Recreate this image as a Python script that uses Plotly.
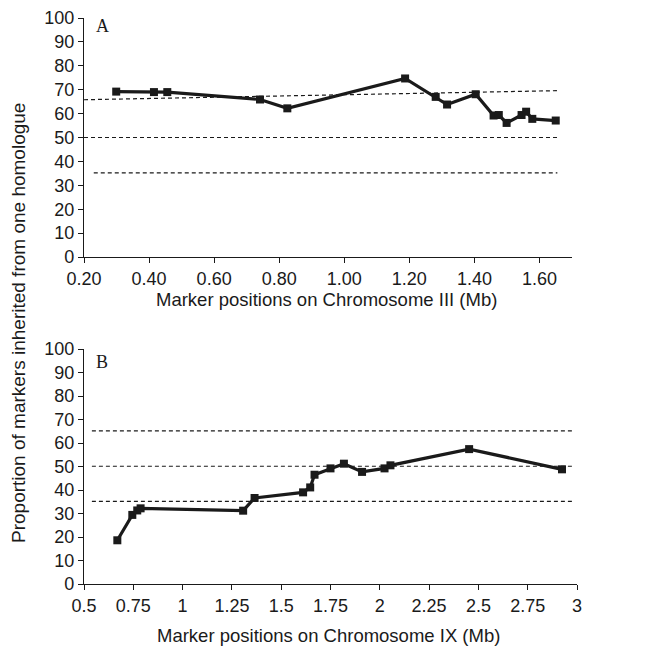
import plotly.graph_objects as go

W, H = 662, 646

# Panel A: Chromosome III
a_pos = [0.299, 0.415, 0.456, 0.741, 0.825, 1.187, 1.281, 1.316, 1.404,
         1.459, 1.475, 1.499, 1.545, 1.559, 1.578, 1.650]
a_val = [69.2, 69.0, 69.0, 65.9, 62.2, 74.7, 67.0, 63.8, 68.1,
         59.2, 59.4, 56.1, 59.4, 60.8, 57.8, 57.1]
a_upper_x = [0.20, 1.655]
a_upper_y = [65.8, 69.6]
a_mid_x = [0.20, 1.66]
a_mid_y = [50, 50]
a_low_x = [0.23, 1.655]
a_low_y = [35.2, 35.2]
a_ticks = [0.2, 0.4, 0.6, 0.8, 1.0, 1.2, 1.4, 1.6]
a_ticktext = ["0.20", "0.40", "0.60", "0.80", "1.00", "1.20", "1.40", "1.60"]

# Panel B: Chromosome IX
b_pos = [0.669, 0.745, 0.770, 0.787, 1.307, 1.365, 1.611, 1.647, 1.669,
         1.750, 1.818, 1.910, 2.024, 2.054, 2.453, 2.924]
b_val = [18.6, 29.4, 31.3, 32.2, 31.2, 36.6, 39.0, 41.1, 46.5,
         49.2, 51.2, 47.7, 49.2, 50.5, 57.4, 48.8]
b_line_x = [0.54, 2.975]
b_upper_y = [65.2, 65.2]
b_mid_y = [50.1, 50.1]
b_low_y = [35.2, 35.2]
b_ticks = [0.5, 0.75, 1.0, 1.25, 1.5, 1.75, 2.0, 2.25, 2.5, 2.75, 3.0]
b_ticktext = ["0.5", "0.75", "1", "1.25", "1.5", "1.75", "2", "2.25", "2.5", "2.75", "3"]

y_ticks = list(range(0, 101, 10))

FONT = "Liberation Sans, Arial, sans-serif"
SERIF = "Liberation Serif, Times New Roman, serif"
INK = "#1a1a1a"

fig = go.Figure()

dash_style = dict(color=INK, width=1.2, dash="4px,3px")

# dashed reference lines
for xs, ys in [(a_upper_x, a_upper_y), (a_mid_x, a_mid_y), (a_low_x, a_low_y)]:
    fig.add_trace(go.Scatter(x=xs, y=ys, mode="lines", line=dash_style,
                             xaxis="x", yaxis="y", showlegend=False, hoverinfo="skip"))
for ys in [b_upper_y, b_mid_y, b_low_y]:
    fig.add_trace(go.Scatter(x=b_line_x, y=ys, mode="lines", line=dash_style,
                             xaxis="x2", yaxis="y2", showlegend=False, hoverinfo="skip"))

fig.add_trace(go.Scatter(x=a_pos, y=a_val, mode="lines+markers",
                         line=dict(color=INK, width=3.2),
                         marker=dict(symbol="square", size=8, color=INK),
                         xaxis="x", yaxis="y", showlegend=False))
fig.add_trace(go.Scatter(x=b_pos, y=b_val, mode="lines+markers",
                         line=dict(color=INK, width=3.2),
                         marker=dict(symbol="square", size=8, color=INK),
                         xaxis="x2", yaxis="y2", showlegend=False))

def px_x(p):
    return p / W

def px_y(p):
    return 1 - p / H

axis_common = dict(showline=True, linecolor=INK, linewidth=1.2, ticks="outside",
                   ticklen=5, tickcolor=INK, tickwidth=1.2, showgrid=False,
                   zeroline=False, automargin=False,
                   tickfont=dict(family=FONT, size=18, color=INK))

fig.update_layout(
    width=W, height=H,
    margin=dict(l=0, r=0, t=0, b=0),
    paper_bgcolor="white", plot_bgcolor="white",
    xaxis=dict(domain=[px_x(84), px_x(572)], range=[0.2, 1.7], anchor="y",
               tickvals=a_ticks, ticktext=a_ticktext, **axis_common),
    yaxis=dict(domain=[px_y(257), px_y(18)], range=[0, 100], anchor="x",
               tickvals=y_ticks, **axis_common),
    xaxis2=dict(domain=[px_x(84), px_x(577)], range=[0.5, 3.0], anchor="y2",
                tickvals=b_ticks, ticktext=b_ticktext, **axis_common),
    yaxis2=dict(domain=[px_y(584), px_y(349)], range=[0, 100], anchor="x2",
                tickvals=y_ticks, **axis_common),
    annotations=[
        dict(text="A", x=px_x(94), y=px_y(26), xref="paper", yref="paper",
             xanchor="left", yanchor="middle", showarrow=False,
             font=dict(family=SERIF, size=18, color=INK)),
        dict(text="B", x=px_x(94), y=px_y(362), xref="paper", yref="paper",
             xanchor="left", yanchor="middle", showarrow=False,
             font=dict(family=SERIF, size=18, color=INK)),
        dict(text="Marker positions on Chromosome III (Mb)", x=px_x(326), y=px_y(299),
             xref="paper", yref="paper", xanchor="center", yanchor="middle",
             showarrow=False, font=dict(family=FONT, size=18.5, color=INK)),
        dict(text="Marker positions on Chromosome IX (Mb)", x=px_x(328), y=px_y(635),
             xref="paper", yref="paper", xanchor="center", yanchor="middle",
             showarrow=False, font=dict(family=FONT, size=18.5, color=INK)),
        dict(text="Proportion of markers inherited from one homologue", x=px_x(18), y=px_y(323),
             xref="paper", yref="paper", xanchor="center", yanchor="middle",
             textangle=-90, showarrow=False, font=dict(family=FONT, size=19, color=INK)),
    ],
)

fig.write_html(
    "out.html",
    config={"displayModeBar": False},
    post_script="document.body.style.margin='0';document.body.style.overflow='hidden';",
)
